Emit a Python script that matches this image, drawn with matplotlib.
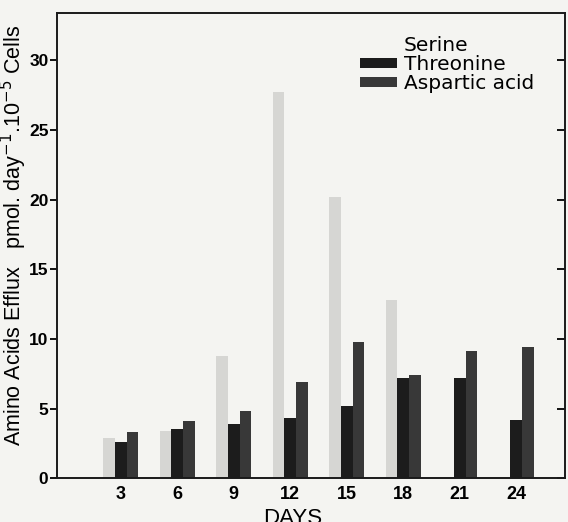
""" Amino acid efflux from senescent cells over time
"""
import numpy as np
import matplotlib.pyplot as plt
from matplotlib.patches import Patch

days = [3, 6, 9, 12, 15, 18, 21, 24]
serine = [2.9, 3.4, 8.8, 27.7, 20.2, 12.8, 0.0, 0.0]
threonine = [2.6, 3.5, 3.9, 4.35, 5.2, 7.2, 7.2, 4.2]
aspartic = [3.3, 4.1, 4.8, 6.9, 9.8, 7.4, 9.1, 9.4]
y_ticks = [0, 5, 10, 15, 20, 25, 30]

paper = "#f4f4f1"
serine_color = "#d6d6d3"
threonine_color = "#1c1c1c"
aspartic_color = "#383838"

label_font = ["Liberation Sans", "DejaVu Sans"]


def main() -> None:
    """Draw the grouped bar chart and save it."""
    fig = plt.figure(figsize=(5.68, 5.22), dpi=100, facecolor=paper)
    ax = fig.add_axes([0.100, 0.084, 0.895, 0.891], facecolor=paper)

    x = np.array(days, dtype=float)
    width = 0.62
    ax.bar(x - width, serine, width, color=serine_color, align="center")
    ax.bar(x, threonine, width, color=threonine_color, align="center")
    ax.bar(x + width, aspartic, width, color=aspartic_color, align="center")

    ax.set_xlim(-0.4, 26.6)
    ax.set_ylim(0, 33.4)

    for side in ["left", "bottom", "top", "right"]:
        ax.spines[side].set_linewidth(1.4)
        ax.spines[side].set_color("#1a1a1a")

    ax.set_xticks(days)
    ax.set_xticklabels([str(d) for d in days], family=label_font,
                       fontsize=13, fontweight="bold")
    ax.tick_params(axis="x", length=0, pad=6)

    ax.set_yticks(y_ticks)
    ax.set_yticklabels([str(t) for t in y_ticks], family=label_font,
                       fontsize=12.5, fontweight="bold")
    ax.tick_params(axis="y", direction="out", length=5, width=1.3, pad=1,
                   right=True)
    # right-hand ticks point into the plot
    for tick in ax.yaxis.get_major_ticks():
        tick.tick2line.set_marker(0)
        tick.tick2line.set_markersize(6)

    ax.set_xlabel("DAYS", family=label_font, fontsize=16, labelpad=3)
    ax.xaxis.label.set_x(0.465)
    ax.set_ylabel(r"Amino Acids Efflux   pmol. day$^{-1}$.10$^{-5}$ Cells",
                  family=label_font, fontsize=15.5)
    ax.yaxis.set_label_coords(-0.054, 0.523)

    handles = [Patch(facecolor=paper, edgecolor="none"),
               Patch(facecolor=threonine_color, edgecolor="none"),
               Patch(facecolor=aspartic_color, edgecolor="none")]
    ax.legend(handles, ["Serine", "Threonine", "Aspartic acid"],
              loc="upper right", bbox_to_anchor=(0.962, 0.976), frameon=False,
              fontsize=14.5, handlelength=1.85, handleheight=0.42,
              handletextpad=0.33, labelspacing=0.0, borderaxespad=0.2)

    fig.savefig("out.png", dpi=100, facecolor=paper)
    plt.close(fig)


if __name__ == "__main__":
    main()
